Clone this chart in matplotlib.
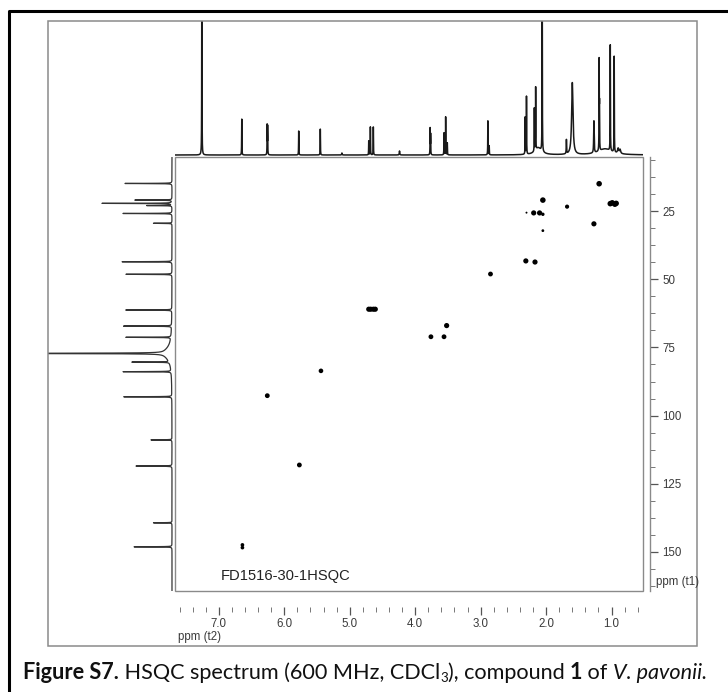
import numpy as np
import matplotlib
matplotlib.use("Agg")
import matplotlib.pyplot as plt
from matplotlib.patches import Rectangle
from matplotlib.lines import Line2D

# ---------------- data ----------------
# 1H projection (top): peak position (ppm), height (px), half width (ppm)
h1_ppm = [7.26, 6.65, 6.262, 6.255, 5.78, 5.45, 5.12, 4.71, 4.685, 4.64, 4.24,
          3.772, 3.765, 3.56, 3.535, 3.51, 2.89, 2.87, 2.32, 2.30, 2.18, 2.16,
          2.06, 2.12, 1.69, 1.60, 1.27, 1.19, 1.185, 1.10, 1.02, 0.96, 0.90, 0.87]
h1_int = [200, 36, 29, 28, 24, 26, 2, 14, 28, 28, 4,
          26, 20, 22, 38, 12, 34, 9, 37, 58, 43, 63,
          200, 7, 14, 72, 32, 88, 40, 6, 106, 96, 5, 4]
h1_wid = [0.002, 0.002, 0.002, 0.002, 0.002, 0.002, 0.004, 0.002, 0.002, 0.002, 0.004,
          0.002, 0.002, 0.002, 0.002, 0.002, 0.002, 0.002, 0.002, 0.002, 0.002, 0.002,
          0.002, 0.06, 0.003, 0.012, 0.004, 0.002, 0.002, 0.12, 0.002, 0.002, 0.01, 0.01]

# 13C projection (left): peak position (ppm), intensity (px), half width (ppm)
c13_ppm = [14.9, 21.0, 22.2, 23.0, 25.9, 29.5, 43.6, 48.2, 61.3, 67.2, 71.3,
           77.2, 77.2, 80.4, 83.9, 93.1, 108.9, 118.5, 139.3, 148.1]
c13_int = [47, 37, 70, 25, 49, 18.5, 50, 46, 46, 48, 45,
           200, 8, 37, 48, 48, 21, 36, 18.5, 38]
c13_wid = [0.05, 0.05, 0.05, 0.05, 0.05, 0.05, 0.05, 0.05, 0.05, 0.05, 0.05,
           0.08, 2.5, 0.05, 0.05, 0.05, 0.05, 0.05, 0.05, 0.05]

# HSQC cross peaks: 1H ppm, 13C ppm, marker size
hsqc_h = [1.19, 1.02, 0.99, 0.95, 0.93, 2.05, 1.68, 2.19, 2.10, 2.05, 2.30, 2.05,
          1.27, 2.31, 2.17, 2.85, 4.71, 4.68, 4.64, 4.61, 3.52, 3.76, 3.56,
          5.44, 6.26, 5.77, 6.64, 6.64]
hsqc_c = [15.0, 22.3, 22.0, 22.5, 22.2, 21.0, 23.4, 25.7, 25.7, 26.2, 25.6, 32.2,
          29.7, 43.3, 43.7, 48.1, 61.0, 61.0, 61.0, 61.0, 67.0, 71.1, 71.1,
          83.6, 92.7, 118.1, 147.4, 148.4]
hsqc_s = [16, 16, 16, 16, 16, 16, 9, 14, 14, 6, 2, 4,
          14, 14, 14, 12, 14, 14, 14, 14, 14, 12, 12,
          11, 12, 12, 7, 7]

x_major = [7.0, 6.0, 5.0, 4.0, 3.0, 2.0, 1.0]
y_major = [25, 50, 75, 100, 125, 150]

# ---------------- layout ----------------
W, H = 728, 692
fig = plt.figure(figsize=(W / 100, H / 100), dpi=100)
fig.patch.set_facecolor("white")


def fx(p):
    return p / W


def fy(p):
    return 1 - p / H


XL = (7.67, 0.52)
YL = (164.3, 5.2)
GRAY = "#8a8a8a"
TXT = "#3a3a3a"
TFS = 8.3

# outer frames
fig.add_artist(Line2D([fx(8.5), fx(8.5), fx(740)], [fy(720), fy(11), fy(11)],
                      transform=fig.transFigure, color="black", lw=2.2))
fig.add_artist(Rectangle((fx(48), fy(646)), fx(697) - fx(48), fy(21) - fy(646),
                         transform=fig.transFigure, fill=False, ec=GRAY, lw=1.1))

# main 2D axes
ax = fig.add_axes([fx(175), fy(591), (643 - 175) / W, (591 - 157) / H])
ax.set_xlim(*XL)
ax.set_ylim(*YL)
ax.scatter(hsqc_h, hsqc_c, s=hsqc_s, c="black", marker="o", linewidths=0, zorder=3)
for k in ["top", "left"]:
    ax.spines[k].set_visible(False)
ax.spines["bottom"].set_position(("outward", 16 * 0.72))
ax.spines["bottom"].set_visible(False)
ax.spines["right"].set_position(("outward", 7 * 0.72))
ax.spines["right"].set_color(GRAY)
ax.spines["right"].set_linewidth(1.0)
ax.add_patch(Rectangle((0, 0), 1, 1, transform=ax.transAxes, fill=False,
                       ec=GRAY, lw=1.0, clip_on=False, zorder=5))
ax.xaxis.set_ticks_position("bottom")
ax.yaxis.set_ticks_position("right")
ax.set_xticks(x_major)
ax.set_xticklabels([f"{v:.1f}" for v in x_major], fontfamily="Liberation Sans")
ax.set_xticks(np.arange(0.6, 7.61, 0.2), minor=True)
ax.set_yticks(y_major)
ax.set_yticklabels([str(v) for v in y_major], fontfamily="Liberation Sans")
ax.set_yticks(np.arange(6.25, 163, 6.25), minor=True)
ax.tick_params(axis="both", which="major", direction="out", length=5.8, width=0.9,
               color="#555555", labelsize=TFS, labelcolor=TXT)
ax.tick_params(axis="both", which="minor", direction="out", length=3.6, width=0.7,
               color="#777777")
ax.tick_params(axis="x", which="major", pad=2.0)
ax.tick_params(axis="y", which="major", pad=3)
ax.text(0.097, 0.018, "FD1516-30-1HSQC", transform=ax.transAxes,
        fontsize=10.6, family="Liberation Sans", color="#222222", va="bottom")

# top 1H projection
axt = fig.add_axes([fx(175), fy(157), (643 - 175) / W, (157 - 21) / H])
axt.set_xlim(*XL)
axt.set_ylim(-2, 134)
xh = np.linspace(XL[0], XL[1], 24000)
yh = np.zeros_like(xh)
for p, h, w in zip(h1_ppm, h1_int, h1_wid):
    yh += h * w ** 2 / ((xh - p) ** 2 + w ** 2)
axt.plot(xh, yh, color="#1a1a1a", lw=1.1)
axt.axis("off")

# left 13C projection
axl = fig.add_axes([fx(48), fy(591), (175 - 48) / W, (591 - 157) / H])
axl.set_xlim(124, -3)
axl.set_ylim(*YL)
yc = np.linspace(YL[1], YL[0], 30000)
xc = np.zeros_like(yc)
for p, h, w in zip(c13_ppm, c13_int, c13_wid):
    xc += h * w ** 2 / ((yc - p) ** 2 + w ** 2)
axl.plot(xc, yc, color="#333333", lw=0.9)
axl.axis("off")

# axis labels
fig.text(fx(656), fy(582), "ppm (t1)", fontsize=TFS, family="Liberation Sans",
         color=TXT, va="center", ha="left")
fig.text(fx(178), fy(637), "ppm (t2)", fontsize=TFS, family="Liberation Sans",
         color=TXT, va="center", ha="left")

# caption
axo = fig.add_axes([0, 0, 1, 1], facecolor="none")
axo.axis("off")
yb = fy(679)
cap_font = "Lato"
cs = 15.6
pieces = [("Figure S7.", "bold", "normal", cs, 0),
          (" HSQC spectrum (600 MHz, CDCl", "normal", "normal", cs, 0),
          ("3", "normal", "normal", cs * 0.62, -0.004),
          ("), compound ", "normal", "normal", cs, 0),
          ("1", "bold", "normal", cs, 0),
          (" of ", "normal", "normal", cs, 0),
          ("V. pavonii.", "normal", "italic", cs, 0)]
prev = None
for txt, wt, st, sz, dy in pieces:
    if prev is None:
        prev = axo.text(fx(23), yb, txt, transform=fig.transFigure, fontsize=sz,
                        family=cap_font, weight=wt, style=st, va="baseline",
                        ha="left", color="#111111")
    else:
        prev = axo.annotate(txt, xy=(1, yb + dy), xycoords=(prev, "figure fraction"),
                            fontsize=sz, family=cap_font, weight=wt, style=st,
                            va="baseline", ha="left", color="#111111")

fig.savefig("out.png", dpi=100, facecolor="white")
